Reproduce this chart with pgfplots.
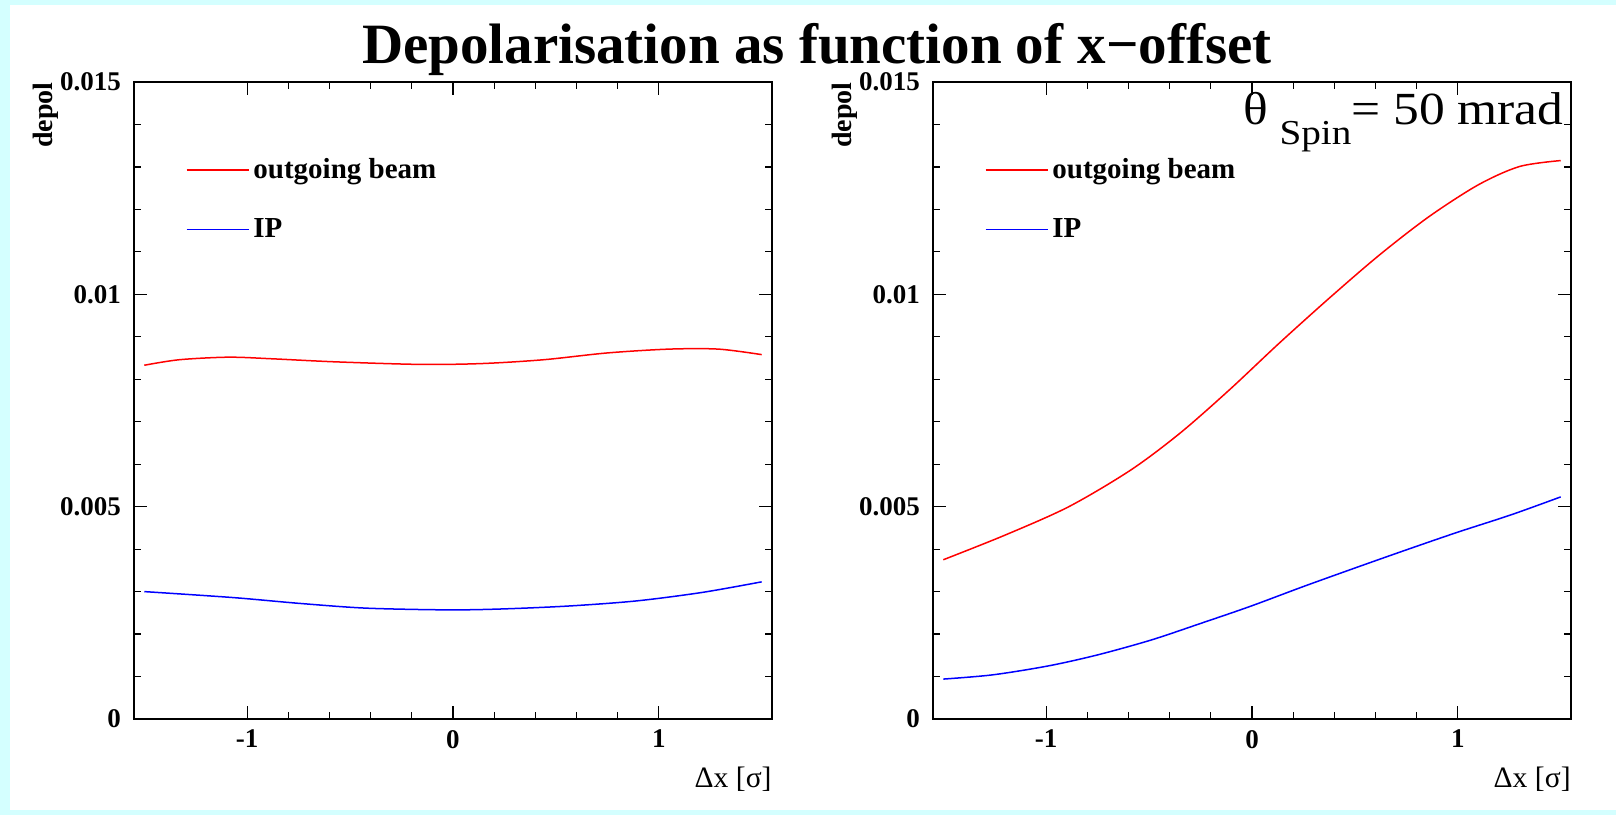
\documentclass[border=0pt]{standalone}
\usepackage{pgfplots}
\pgfplotsset{compat=1.18}
\usepackage{fontspec}
\setmainfont{Liberation Serif}
\definecolor{bgcyan}{RGB}{212,255,255}
\pgfplotsset{
  depolstyle/.style={
    scale only axis, width=319pt, height=318.5pt,
    xmin=-1.55, xmax=1.55, ymin=0, ymax=0.015,
    xtick={-1,0,1}, xticklabels={-1,0,1},
    ytick={0,0.005,0.01,0.015}, yticklabels={0,0.005,0.01,0.015},
    scaled y ticks=false,
    minor x tick num=4, minor y tick num=4,
    tick align=inside, major tick length=6.5pt, minor tick length=3.5pt,
    axis line style={line width=0.6pt, black},
    every tick/.style={black, line width=0.6pt},
    tick label style={font=\fontsize{13.5}{15}\selectfont\bfseries},
    yticklabel style={xshift=-3pt},
    xticklabel style={yshift=-2pt},
    xlabel={\fontsize{14.8}{16}\selectfont Δx [σ]},
    ylabel={\fontsize{14}{15}\selectfont\bfseries depol},
    every axis x label/.style={at={(rel axis cs:1,-0.1083)}, anchor=base east, inner sep=0pt},
    every axis y label/.style={at={(rel axis cs:-0.127,1.0)}, rotate=90, anchor=base east, inner sep=0pt},
    legend image code/.code={\draw[#1] (0pt,0pt) -- (31pt,0pt);},
    legend cell align=left,
    legend style={draw=none, fill=none, at={(rel axis cs:0.0808,0.8153)}, anchor=west,
      font=\fontsize{14.5}{16}\selectfont\bfseries, row sep=14.5pt, inner sep=0pt},
  }
}
\begin{document}
\begin{tikzpicture}
\path[use as bounding box] (0,0) rectangle (808pt,407.5pt);
\fill[bgcyan] (0,0) rectangle (808pt,407.5pt);
\fill[white] (5pt,2.5pt) rectangle (808pt,405pt);
\node[anchor=base, font=\fontsize{28.5}{32}\selectfont\bfseries] at (408.4pt,375.5pt) {Depolarisation as function of x−offset};

\begin{axis}[depolstyle, at={(67pt,48pt)}, anchor=south west]
\addplot[red, line width=0.75pt, smooth] coordinates {
(-1.5,0.00833) (-1.33,0.00846) (-1.09,0.00852) (-0.87,0.00848) (-0.57,0.00841)
(-0.16,0.00835) (0.14,0.00837) (0.44,0.00846) (0.75,0.00862) (1.05,0.00871)
(1.29,0.00871) (1.5,0.00858)};
\addlegendentry{outgoing beam}
\addplot[blue, line width=0.75pt, smooth] coordinates {
(-1.5,0.00300) (-1.07,0.00286) (-0.74,0.00272) (-0.42,0.00261) (-0.03,0.00257)
(0.23,0.00259) (0.56,0.00266) (0.89,0.00278) (1.21,0.00298) (1.5,0.00323)};
\addlegendentry{IP}
\end{axis}

\begin{axis}[depolstyle, at={(466.5pt,48pt)}, anchor=south west]
\addplot[red, line width=0.75pt, smooth] coordinates {
(-1.5,0.00375) (-1.2,0.00433) (-0.89,0.00500) (-0.59,0.00586) (-0.35,0.00673)
(-0.11,0.00775) (0.13,0.00884) (0.38,0.00993) (0.62,0.01093) (0.86,0.01183)
(1.10,0.01258) (1.30,0.01301) (1.5,0.01315)};
\addlegendentry{outgoing beam}
\addplot[blue, line width=0.75pt, smooth] coordinates {
(-1.5,0.00094) (-1.26,0.00104) (-0.99,0.00125) (-0.75,0.00151) (-0.49,0.00186)
(-0.25,0.00225) (-0.01,0.00265) (0.25,0.00312) (0.52,0.00359) (0.76,0.00400)
(1.00,0.00440) (1.26,0.00481) (1.5,0.00523)};
\addlegendentry{IP}
\node[anchor=base east, inner sep=0pt, font=\fontsize{23}{26}\selectfont] at (rel axis cs:0.989,0.9325)
  {\scalebox{1.12}[1]{θ\hspace{5pt}\raisebox{-10pt}{\fontsize{17.5}{20}\selectfont Spin}= 50 mrad}};
\end{axis}
\end{tikzpicture}
\end{document}
